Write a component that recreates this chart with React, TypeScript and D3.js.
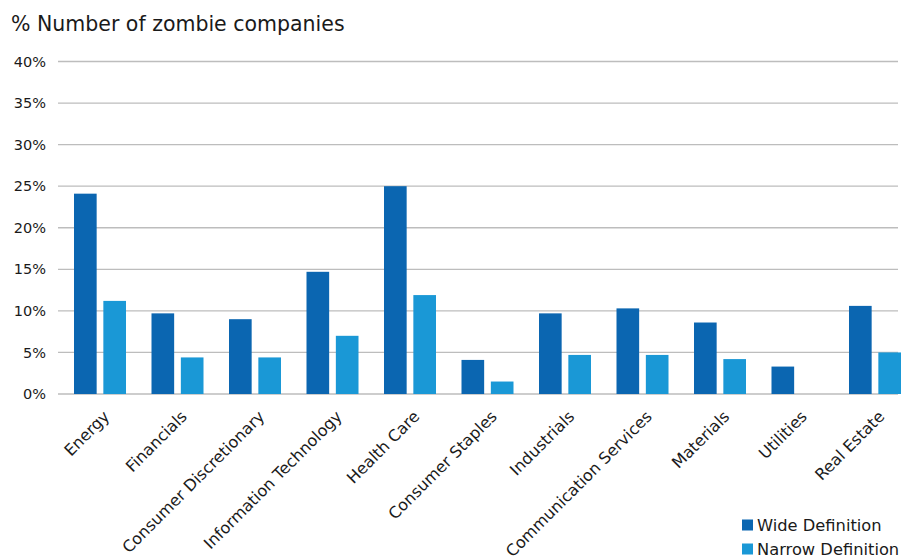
import React from "react";
import * as d3 from "d3";

const categories = [
  "Energy",
  "Financials",
  "Consumer Discretionary",
  "Information Technology",
  "Health Care",
  "Consumer Staples",
  "Industrials",
  "Communication Services",
  "Materials",
  "Utilities",
  "Real Estate",
];
const wideValues = [24.1, 9.7, 9.0, 14.7, 25.0, 4.1, 9.7, 10.3, 8.6, 3.3, 10.6];
const narrowValues = [11.2, 4.4, 4.4, 7.0, 11.9, 1.5, 4.7, 4.7, 4.2, 0, 5.0];
const seriesNames = ["Wide Definition", "Narrow Definition"];
const yTicks = [0, 5, 10, 15, 20, 25, 30, 35, 40];
const title = "% Number of zombie companies";

const W = 904;
const H = 560;
const colors = ["#0b66b1", "#1a98d6"];
const font = "'DejaVu Sans', Verdana, sans-serif";

export default function App() {
  const y = d3.scaleLinear().domain([0, 40]).range([394, 61.5]);
  const x0 = d3.scaleBand<string>().domain(categories).range([74, 901]).paddingInner(0.329).paddingOuter(0);
  const x1 = d3.scaleBand<string>().domain(seriesNames).range([0, x0.bandwidth()]).paddingInner(0.228).paddingOuter(0);
  const series = [wideValues, narrowValues];

  return (
    <svg width={W} height={H} style={{ position: "absolute", left: 0, top: 0, background: "#fff" }}>
      <rect x={0} y={0} width={W} height={H} fill="#fff" />
      <text x={11} y={31} fontFamily={font} fontSize={20.5} fill="#1a1a1a">{title}</text>
      {yTicks.map((t) => (
        <g key={t}>
          <line x1={58} x2={898} y1={y(t)} y2={y(t)} stroke="#bdbdbd" strokeWidth={1.3} />
          <text x={46} y={y(t)} dy="0.35em" textAnchor="end" fontFamily={font} fontSize={14.5} fill="#1a1a1a">{t}%</text>
        </g>
      ))}
      {categories.map((c, i) => (
        <g key={c} transform={`translate(${x0(c)},0)`}>
          {series.map((vals, s) => (
            <rect
              key={s}
              x={x1(seriesNames[s])}
              y={y(vals[i])}
              width={x1.bandwidth()}
              height={y(0) - y(vals[i])}
              fill={colors[s]}
            />
          ))}
        </g>
      ))}
      {categories.map((c) => {
        const cx = (x0(c) as number) + x0.bandwidth() / 2 + 2;
        const cy = 409;
        return (
          <text
            key={c}
            transform={`translate(${cx},${cy}) rotate(-45)`}
            textAnchor="end"
            dy="0.75em"
            fontFamily={font}
            fontSize={16}
            fill="#1a1a1a"
          >
            {c}
          </text>
        );
      })}
      {seriesNames.map((n, s) => (
        <g key={n} transform={`translate(742,${525 + s * 24})`}>
          <rect x={0} y={-5.5} width={11} height={11} fill={colors[s]} />
          <text x={15} y={0} dy="0.35em" fontFamily={font} fontSize={16.3} fill="#1a1a1a">{n}</text>
        </g>
      ))}
    </svg>
  );
}
